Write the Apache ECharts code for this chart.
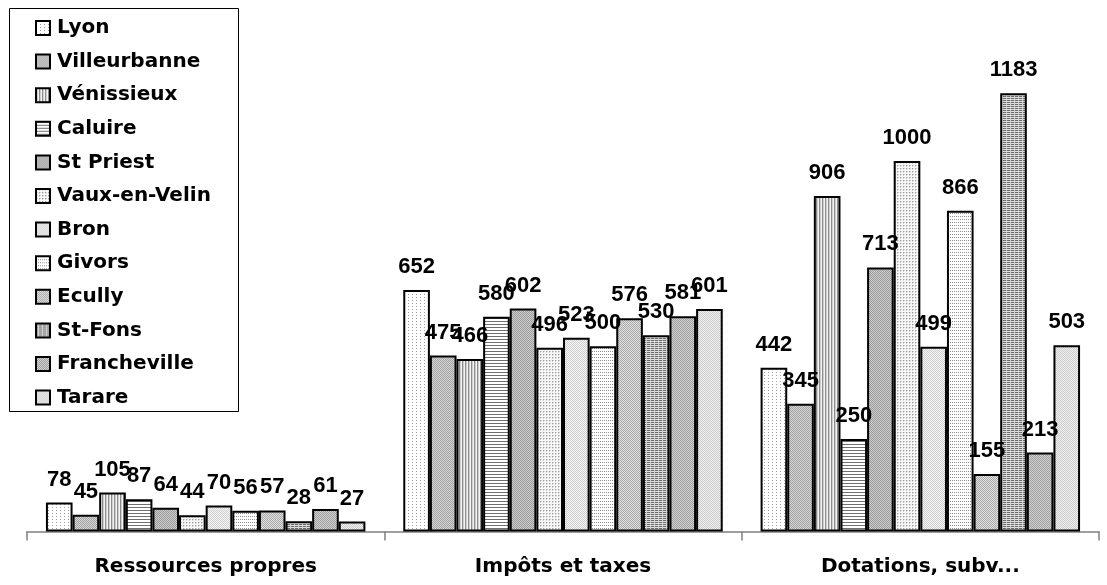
<!DOCTYPE html>
<html>
<head>
<meta charset="utf-8">
<script src="https://cdn.jsdelivr.net/npm/echarts@6/dist/echarts.min.js"></script>
<style>html,body{margin:0;padding:0;background:#fff;}#c{width:1107px;height:585px;}</style>
</head>
<body>
<div id="c"></div>
<script>
const categories = ['Ressources propres', 'Impôts et taxes', 'Dotations, subv...'];
const cities = ['Lyon','Villeurbanne','Vénissieux','Caluire','St Priest','Vaux-en-Velin','Bron','Givors','Ecully','St-Fons','Francheville','Tarare'];
const lyon = [78, 652, 442];
const villeurbanne = [45, 475, 345];
const venissieux = [105, 466, 906];
const caluire = [87, 580, 250];
const stPriest = [64, 602, 713];
const vauxEnVelin = [44, 496, 1000];
const bron = [70, 523, 499];
const givors = [56, 500, 866];
const ecully = [57, 576, 155];
const stFons = [28, 530, 1183];
const francheville = [61, 581, 213];
const tarare = [27, 601, 503];
const seriesValues = [lyon, villeurbanne, venissieux, caluire, stPriest, vauxEnVelin, bron, givors, ecully, stFons, francheville, tarare];

function pattern(rows, colors) {
  const h = rows.length, w = rows[0].length;
  const cv = document.createElement('canvas');
  cv.width = w; cv.height = h;
  const ctx = cv.getContext('2d');
  for (let y = 0; y < h; y++) for (let x = 0; x < w; x++) {
    ctx.fillStyle = colors[rows[y][x]];
    ctx.fillRect(x, y, 1, 1);
  }
  return { image: cv, repeat: 'repeat' };
}
const fills = [
  pattern(['a...','....','....'], {a:'#a0a0a0','.':'#ffffff'}),
  pattern(['ab','ba'], {a:'#a4a4a4',b:'#d4d4d4'}),
  pattern(['abc'], {a:'#8c8c8c',b:'#cfcfcf',c:'#f4f4f4'}),
  pattern(['a','.','.'], {a:'#707070','.':'#ffffff'}),
  pattern(['ab','ba'], {a:'#9c9c9c',b:'#cccccc'}),
  pattern(['ab.','b..','...'], {a:'#a0a0a0',b:'#d0d0d0','.':'#f8f8f8'}),
  pattern(['ab','ba'], {a:'#cfcfcf',b:'#f4f4f4'}),
  pattern(['a.a.','....','....'], {a:'#909090','.':'#ffffff'}),
  pattern(['ab','ba'], {a:'#a8a8a8',b:'#e2e2e2'}),
  pattern(['aa.a','bbbb'], {a:'#6c6c6c','.':'#c8c8c8',b:'#dcdcdc'}),
  pattern(['ab','ba'], {a:'#a0a0a0',b:'#d0d0d0'}),
  pattern(['ab','ba'], {a:'#cccccc',b:'#f0f0f0'})
];

const chart = echarts.init(document.getElementById('c'));
chart.setOption({
  animation: false,
  backgroundColor: '#ffffff',
  graphic: [{
    type: 'rect', silent: true,
    shape: { x: 9.5, y: 8.5, width: 229, height: 403 },
    style: { fill: 'none', stroke: '#000', lineWidth: 1 }
  }],
  legend: {
    data: cities, orient: 'vertical', left: 30, top: 13,
    itemWidth: 14, itemHeight: 14, itemGap: 13.6, selectedMode: false,
    icon: 'rect',
    itemStyle: { borderColor: '#000', borderWidth: 2 },
    textStyle: { fontFamily: 'DejaVu Sans', fontWeight: 'bold', fontSize: 20, color: '#000', lineHeight: 20, padding: [0,0,0,2] }
  },
  grid: { left: 27, right: 8, top: 0, bottom: 53.5, containLabel: false },
  xAxis: {
    type: 'category', data: categories, boundaryGap: true,
    axisLine: { show: true, lineStyle: { color: '#808080', width: 1.5 } },
    axisTick: { show: true, alignWithLabel: false, length: 9, interval: 0, lineStyle: { color: '#808080', width: 1.5 } },
    axisLabel: { margin: 25, interval: 0, color: '#000', fontFamily: 'DejaVu Sans', fontWeight: 'bold', fontSize: 20 }
  },
  yAxis: { type: 'value', min: 0, max: 1435, show: false, splitLine: { show: false } },
  series: seriesValues.map((vals, i) => ({
    name: cities[i], type: 'bar', data: vals,
    barGap: '0%', barCategoryGap: '10.6%',
    itemStyle: { color: fills[i], borderColor: '#000', borderWidth: 2 },
    label: { show: true, position: 'top', distance: 12, color: '#000', fontFamily: 'Liberation Sans', fontWeight: 'bold', fontSize: 22 }
  }))
});
</script>
</body>
</html>
